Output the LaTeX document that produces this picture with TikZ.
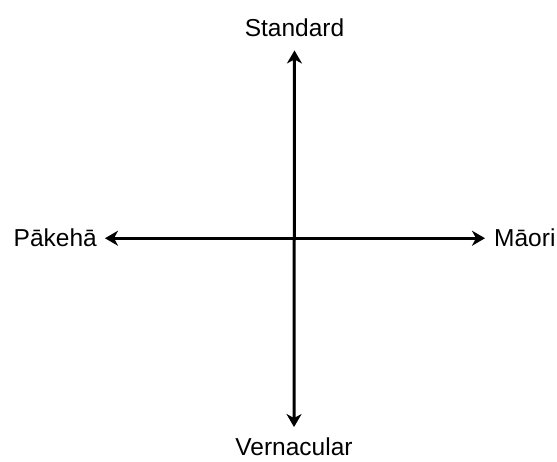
\documentclass[tikz,border=0pt]{standalone}
\usepackage{fontspec}
\setmainfont{Liberation Sans}
\usetikzlibrary{arrows.meta}

\begin{document}
\begin{tikzpicture}[x=1pt, y=-1pt,
    font=\fontsize{24.5}{29}\selectfont,
    lbl/.style={inner sep=0pt},
    axis/.style={line width=3pt, {Stealth[length=13pt, width=15pt, inset=4pt]}-{Stealth[length=13pt, width=15pt, inset=4pt]}}]
  \useasboundingbox (0,0) rectangle (557,462);
  \node[lbl, anchor=base] (std) at (294.5,37) {Standard};
  \node[lbl, anchor=base] (ver) at (294,455) {Vernacular};
  \node[lbl, anchor=base east] (pak) at (97,247) {Pākehā};
  \node[lbl, anchor=base west] (mao) at (494,247) {Māori};
  \draw[axis, shorten <=13pt, shorten >=10pt] (std) -- (ver);
  \draw[axis, shorten <=8pt, shorten >=9pt] (pak) -- (mao);
\end{tikzpicture}
\end{document}
